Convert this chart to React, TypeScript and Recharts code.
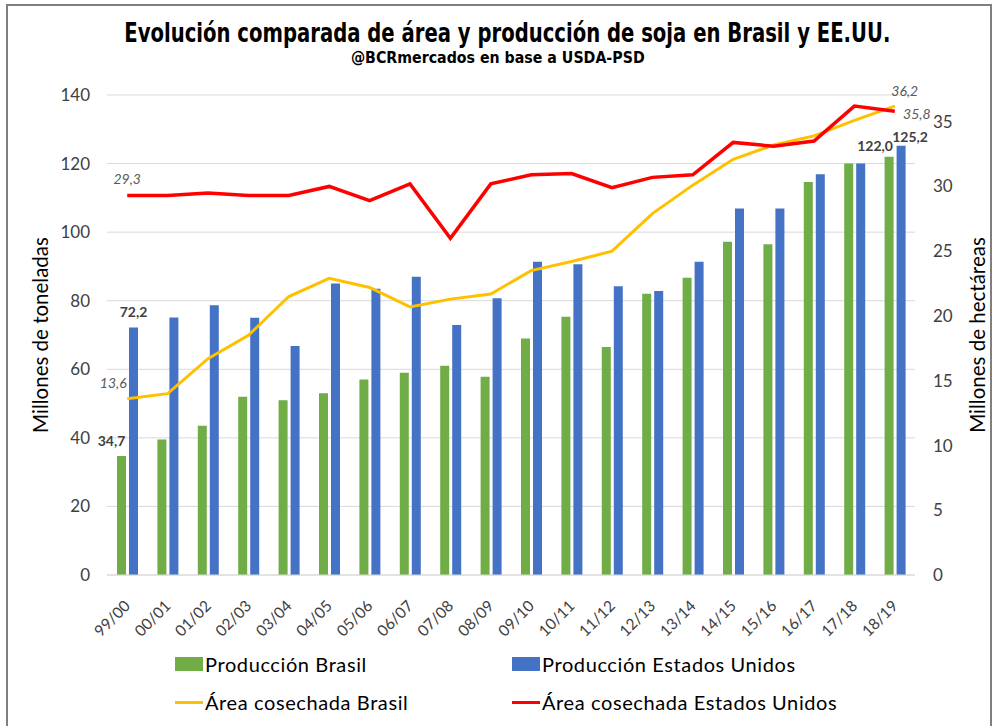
import React from 'react';
import { ComposedChart, Bar, Line, XAxis, YAxis, CartesianGrid, Legend, LabelList } from 'recharts';

const categories = ['99/00', '00/01', '01/02', '02/03', '03/04', '04/05', '05/06', '06/07', '07/08', '08/09',
  '09/10', '10/11', '11/12', '12/13', '13/14', '14/15', '15/16', '16/17', '17/18', '18/19'];

// millones de toneladas
const prodBrasil = [34.7, 39.5, 43.5, 52.0, 51.0, 53.0, 57.0, 59.0, 61.0, 57.8, 69.0, 75.3, 66.5, 82.0, 86.7, 97.2, 96.5, 114.6, 120.0, 122.0];
const prodEEUU = [72.2, 75.1, 78.7, 75.0, 66.8, 85.0, 83.5, 87.0, 72.9, 80.7, 91.4, 90.6, 84.2, 82.8, 91.4, 106.9, 106.9, 116.9, 120.0, 125.2];

// millones de hectáreas
const areaBrasil = [13.6, 14.0, 16.7, 18.5, 21.5, 22.9, 22.2, 20.7, 21.3, 21.7, 23.5, 24.2, 25.0, 27.9, 30.1, 32.1, 33.2, 33.9, 35.1, 36.2];
const areaEEUU = [29.3, 29.3, 29.5, 29.3, 29.3, 30.0, 28.9, 30.2, 26.0, 30.2, 30.9, 31.0, 29.9, 30.7, 30.9, 33.4, 33.1, 33.5, 36.2, 35.8];

const leftTicks = [0, 20, 40, 60, 80, 100, 120, 140];
const rightTicks = [0, 5, 10, 15, 20, 25, 30, 35];

const data = categories.map((c, i) => ({
  cat: c,
  prodBrasil: prodBrasil[i],
  prodEEUU: prodEEUU[i],
  areaBrasil: areaBrasil[i],
  areaEEUU: areaEEUU[i],
}));

const FONT = 'Lato, "Open Sans", sans-serif';
const TITLE_FONT = '"DejaVu Sans", sans-serif';
const last = categories.length - 1;
const fmt = (v: number) => v.toFixed(1).replace('.', ',');

// labels only on first and last point of each series
type Off = { dx: number; dy: number };
const edgeLabel = (first: Off, end: Off, italic: boolean) => (props: any) => {
  const { x, y, width, value, index } = props;
  if (index !== 0 && index !== last) return null;
  const o = index === 0 ? first : end;
  const cx = x + (width || 0) / 2 + o.dx;
  return (
    <text x={cx} y={y + o.dy} textAnchor="middle" fontFamily={FONT} fontSize={14}
      fontWeight={italic ? 400 : 700} fontStyle={italic ? 'italic' : 'normal'}
      fill={italic ? '#595959' : '#404040'}>
      {fmt(value)}
    </text>
  );
};

const XTick = (props: any) => {
  const { x, y, payload } = props;
  return (
    <text x={x + 4} y={y + 24} transform={`rotate(-45, ${x + 4}, ${y + 24})`} textAnchor="end"
      fontFamily={FONT} fontSize={15.5} fill="#404040">
      {payload.value}
    </text>
  );
};

const AxisTitle = (text: string, dx: number) => (props: any) => {
  const { viewBox } = props;
  const cx = viewBox.x + dx;
  const cy = viewBox.y + viewBox.height / 2;
  return (
    <text x={cx} y={cy} transform={`rotate(-90, ${cx}, ${cy})`} textAnchor="middle" dominantBaseline="central"
      fontFamily={FONT} fontSize={20.5} fill="#000">
      {text}
    </text>
  );
};

const legendPos: Record<string, { left: number; top: number }> = {
  prodBrasil: { left: 175, top: 0 },
  prodEEUU: { left: 512, top: 0 },
  areaBrasil: { left: 175, top: 38 },
  areaEEUU: { left: 512, top: 38 },
};

const LegendContent = (props: any) => {
  const { payload } = props;
  return (
    <div style={{ position: 'relative', width: 995, height: 80 }}>
      {(payload || []).map((p: any) => {
        const pos = legendPos[p.dataKey];
        if (!pos) return null;
        const isLine = p.type === 'line';
        return (
          <div key={p.dataKey} style={{ position: 'absolute', left: pos.left, top: pos.top, display: 'flex', alignItems: 'center', height: 24 }}>
            <span style={{ display: 'inline-block', width: 28, height: isLine ? 3 : 14, background: p.color, marginRight: 2 }} />
            <span style={{ fontFamily: FONT, fontSize: 20, letterSpacing: 0.6, color: '#000' }}>{p.value}</span>
          </div>
        );
      })}
    </div>
  );
};

export default function App() {
  return (
    <div style={{ position: 'absolute', left: 0, top: 0, width: 995, height: 726, background: '#fff', overflow: 'hidden' }}>
      <div style={{ position: 'absolute', left: 6, top: 4, width: 986, height: 740, border: '2px solid #7f7f7f', boxSizing: 'border-box' }} />
      <div style={{ position: 'absolute', left: 0, top: 18, width: 995, textAlign: 'center', lineHeight: '30px' }}>
        <span style={{ display: 'inline-block', transform: 'scaleX(0.755)', fontFamily: TITLE_FONT, fontWeight: 700, fontSize: 26, color: '#000', whiteSpace: 'nowrap' }}>
          Evolución comparada de área y producción de soja en Brasil y EE.UU.
        </span>
      </div>
      <div style={{ position: 'absolute', left: 0, top: 48, width: 995, textAlign: 'center', lineHeight: '20px' }}>
        <span style={{ display: 'inline-block', transform: 'scaleX(0.86)', fontFamily: TITLE_FONT, fontWeight: 700, fontSize: 16.5, color: '#000', whiteSpace: 'nowrap' }}>
          @BCRmercados en base a USDA-PSD
        </span>
      </div>
      <ComposedChart width={995} height={726} data={data} barSize={9} barGap={3}
        margin={{ top: 95, right: 0, left: 0, bottom: 91 }}>
        <CartesianGrid vertical={false} stroke="#d9d9d9" yAxisId="left" />
        <XAxis dataKey="cat" tick={<XTick />} tickLine={false} axisLine={{ stroke: '#d9d9d9' }} interval={0} height={60} />
        <YAxis yAxisId="left" domain={[0, 140]} ticks={leftTicks} width={107} axisLine={false} tickLine={false}
          tickSize={0} tickMargin={17} tick={{ fontFamily: FONT, fontSize: 17, fill: '#404040' }}
          label={{ content: AxisTitle('Millones de toneladas', 40) }} />
        <YAxis yAxisId="right" orientation="right" domain={[0, 37.06]} ticks={rightTicks} width={80} axisLine={false}
          tickLine={false} tickSize={0} tickMargin={18} tick={{ fontFamily: FONT, fontSize: 17, fill: '#404040', textAnchor: 'start' }}
          label={{ content: AxisTitle('Millones de hectáreas', 62) }} />
        <Legend layout="horizontal" verticalAlign="middle" align="center" content={<LegendContent />}
          wrapperStyle={{ position: 'absolute', top: 652, left: 0, width: 995, height: 80 }} />
        <Bar yAxisId="left" dataKey="prodBrasil" name="Producción Brasil" fill="#70ad47" isAnimationActive={false}>
          <LabelList dataKey="prodBrasil" content={edgeLabel({ dx: -10, dy: -10 }, { dx: -14, dy: -6 }, false)} />
        </Bar>
        <Bar yAxisId="left" dataKey="prodEEUU" name="Producción Estados Unidos" fill="#4472c4" isAnimationActive={false}>
          <LabelList dataKey="prodEEUU" content={edgeLabel({ dx: 0, dy: -10 }, { dx: 9, dy: -4 }, false)} />
        </Bar>
        <Line yAxisId="right" type="linear" dataKey="areaBrasil" name="Área cosechada Brasil" stroke="#ffc000" strokeWidth={3}
          dot={false} legendType="line" isAnimationActive={false}>
          <LabelList dataKey="areaBrasil" content={edgeLabel({ dx: -14, dy: -11 }, { dx: 10, dy: -10 }, true)} />
        </Line>
        <Line yAxisId="right" type="linear" dataKey="areaEEUU" name="Área cosechada Estados Unidos" stroke="#ff0000" strokeWidth={3.5}
          dot={false} legendType="line" isAnimationActive={false}>
          <LabelList dataKey="areaEEUU" content={edgeLabel({ dx: 0, dy: -12 }, { dx: 22, dy: 8 }, true)} />
        </Line>
      </ComposedChart>
    </div>
  );
}
